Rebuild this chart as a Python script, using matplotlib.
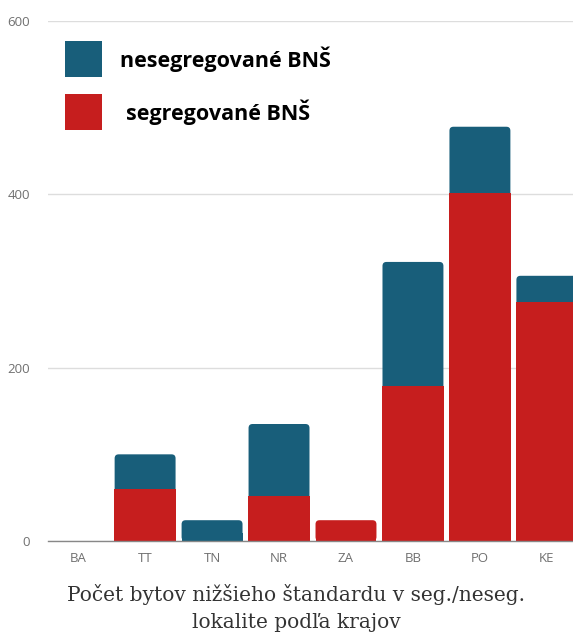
import matplotlib

matplotlib.use("Agg")
import matplotlib.pyplot as plt
from matplotlib.patches import FancyBboxPatch, Rectangle

# Housing units below standard per region, split by locality type
regions = ["BA", "TT", "TN", "NR", "ZA", "BB", "PO", "KE"]
segregated = [0, 60, 0, 52, 24, 179, 401, 276]
non_segregated = [0, 40, 24, 83, 0, 143, 77, 30]
y_ticks = [0, 200, 400, 600]
legend_labels = ["nesegregované BNŠ", "segregované BNŠ"]

BLUE = "#185E7A"
RED = "#C61E1E"
BAR_W = 0.91
W, H = 573, 632


def rounded_bar(ax, xc, height, color, rx=0.06, ry=4.6):
    """Bar from the baseline with rounded upper corners only."""
    if height <= 0:
        return
    ax.add_patch(FancyBboxPatch(
        (xc - BAR_W / 2, 0), BAR_W, height,
        boxstyle=f"round,pad=0,rounding_size={rx}",
        mutation_aspect=ry / rx, facecolor=color, edgecolor="none", zorder=3,
    ))
    ax.add_patch(Rectangle(
        (xc - BAR_W / 2, 0), BAR_W, min(height, 2 * ry),
        facecolor=color, edgecolor="none", zorder=3,
    ))


fig = plt.figure(figsize=(W / 100, H / 100), dpi=100)
ax = fig.add_axes([48 / W, 1 - 541 / H, 1 - 48 / W, (541 - 21) / H])

for i, (seg, nonseg) in enumerate(zip(segregated, non_segregated)):
    if nonseg > 0:
        rounded_bar(ax, i, seg + nonseg, BLUE)
        if seg > 0:
            # a hair wider so no blue fringe shows along the sides
            ax.bar(i, seg, width=BAR_W + 0.004, color=RED, zorder=4)
    else:
        rounded_bar(ax, i, seg, RED)

ax.set_xlim(-0.45, 7.39)
ax.set_ylim(0, 600)
ax.set_yticks(y_ticks)
ax.set_xticks(range(len(regions)))
ax.set_xticklabels(regions)
ax.tick_params(axis="both", length=0, labelsize=9.5, labelcolor="#707070")
ax.tick_params(axis="x", pad=8)
ax.tick_params(axis="y", pad=13)
for lbl in ax.get_xticklabels() + ax.get_yticklabels():
    lbl.set_family("Open Sans")
ax.grid(axis="y", color="#dddddd", linewidth=1, zorder=0)
for side in ("top", "right", "left"):
    ax.spines[side].set_visible(False)
ax.spines["bottom"].set_color("#888888")
ax.spines["bottom"].set_linewidth(1)
ax.spines["bottom"].set_zorder(5)

# legend: colour squares with bold labels
for color, label, top, text_x in zip(
    [BLUE, RED], legend_labels, [41, 94], [120, 126]
):
    fig.patches.append(Rectangle(
        (65 / W, 1 - (top + 36) / H), 37 / W, 36 / H,
        transform=fig.transFigure, facecolor=color, edgecolor="none",
    ))
    fig.text(text_x / W, 1 - (top + 18) / H, label, ha="left", va="center",
             family="Open Sans", weight="bold", fontsize=15.5, color="black")

fig.text(
    296 / W, 1 - 608 / H,
    "Počet bytov nižšieho štandardu v seg./neseg.\nlokalite podľa krajov",
    ha="center", va="center", family="DejaVu Serif", fontsize=14.5,
    color="#333333", linespacing=1.55,
)

fig.savefig("out.png", dpi=100)
